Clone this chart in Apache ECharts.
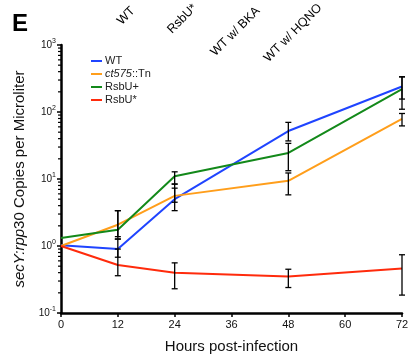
<!DOCTYPE html>
<html>
<head>
<meta charset="utf-8">
<script src="https://cdn.jsdelivr.net/npm/echarts@6/dist/echarts.min.js"></script>
<style>
  html, body { margin: 0; padding: 0; background: #fff; }
  #chart { width: 417px; height: 356px; }
</style>
</head>
<body>
<div id="chart"></div>
<script>
// hours post-infection
const hours = [0, 12, 24, 48, 72];
const seriesNames = ["WT", "ct575::Tn", "RsbU+", "RsbU*"];
const colors = ["#1f44ff", "#ff9e1b", "#13891a", "#ff2b0c"];

// mean copies per microliter
const wt = [1.03, 0.9, 5.0, 52, 240];
const ct575 = [1.0, 2.08, 5.6, 9.4, 79];
const rsbuPlus = [1.32, 1.75, 11, 24.5, 220];
const rsbuStar = [1.0, 0.52, 0.4, 0.35, 0.46];

// error bar ends (null = no bar)
const wtLow = [null, 0.68, 3.37, 37, 156];
const wtHigh = [null, 1.27, 7.3, 70, 335];
const ct575Low = [null, 1.38, 4.5, 5.8, 62];
const ct575High = [null, 3.37, 8.4, 12.3, 95];
const rsbuPlusLow = [null, 1.27, 8.4, 13.3, 110];
const rsbuPlusHigh = [null, 3.37, 12.8, 34, 335];
const rsbuStarLow = [null, 0.36, 0.23, 0.24, 0.185];
const rsbuStarHigh = [null, 0.9, 0.56, 0.45, 0.74];

// tick labels for the top panel strip
const topLabels = ["WT", "RsbU*", "WT w/ BKA", "WT w/ HQNO"];

const means = [wt, ct575, rsbuPlus, rsbuStar];
const lows = [wtLow, ct575Low, rsbuPlusLow, rsbuStarLow];
const highs = [wtHigh, ct575High, rsbuPlusHigh, rsbuStarHigh];

// minor ticks on the log axis (2..9 per decade)
const minorTicks = [];
[0.1, 1, 10, 100].forEach((d) => {
  for (let k = 2; k <= 9; k++) minorTicks.push([0, d * k]);
});

const font = "Liberation Sans, Arial, Helvetica, sans-serif";

const chart = echarts.init(document.getElementById("chart"));

const errorData = [];
hours.forEach((h, i) => {
  lows.forEach((l, s) => {
    if (l[i] != null) errorData.push([h, l[i], highs[s][i]]);
  });
});

const lineSeries = seriesNames.map((name, s) => ({
  name,
  type: "line",
  data: hours.map((h, i) => [h, means[s][i]]),
  showSymbol: false,
  symbol: "none",
  lineStyle: { width: 2, color: colors[s] },
  itemStyle: { color: colors[s] },
  z: 3,
}));

const options = {
  animation: false,
  color: colors,
  grid: { left: 61, right: 15, top: 45, bottom: 43, containLabel: false, outerBoundsMode: "none" },
  legend: {
    orient: "vertical",
    left: 86,
    top: 50,
    itemWidth: 11,
    itemHeight: 2,
    itemGap: 1,
    icon: "rect",
    data: seriesNames,
    textStyle: {
      fontFamily: font,
      fontSize: 11,
      lineHeight: 12,
      color: "#222",
      padding: [0, 0, 0, -2],
      rich: { i: { fontStyle: "italic", fontFamily: font, fontSize: 11, lineHeight: 12, color: "#222" } },
    },
    formatter(name) {
      return name === "ct575::Tn" ? "{i|ct575}::Tn" : name;
    },
  },
  xAxis: {
    type: "value",
    min: 0,
    max: 72,
    interval: 12,
    name: "Hours post-infection",
    nameLocation: "middle",
    nameGap: 26,
    nameTextStyle: { fontFamily: font, fontSize: 15, color: "#111" },
    axisLine: { lineStyle: { color: "#000", width: 2.5 } },
    axisTick: { show: true, length: 4, lineStyle: { color: "#000", width: 1.5 } },
    axisLabel: { fontFamily: font, fontSize: 11, color: "#111", margin: 6 },
    splitLine: { show: false },
  },
  yAxis: {
    type: "log",
    logBase: 10,
    min: 0.1,
    max: 1000,
    name: "{i|secY:rpp}30 Copies per Microliter",
    nameLocation: "middle",
    nameGap: 26,
    nameRotate: 90,
    nameTextStyle: {
      fontFamily: font,
      fontSize: 15,
      color: "#111",
      rich: { i: { fontStyle: "italic", fontFamily: font, fontSize: 15, color: "#111" } },
    },
    axisLine: { show: true, lineStyle: { color: "#000", width: 2.5 } },
    axisTick: { show: true, length: 4, lineStyle: { color: "#000", width: 1.5 } },
    axisLabel: {
      margin: 5,
      formatter(v) {
        const e = Math.round(Math.log10(v));
        return "{b|10}{s|" + e + "}";
      },
      rich: {
        b: { fontFamily: font, fontSize: 10, color: "#111" },
        s: { fontFamily: font, fontSize: 7, color: "#111", verticalAlign: "bottom", padding: [0, 0, 7, 0] },
      },
    },
    splitLine: { show: false },
  },
  graphic: [
    {
      type: "text",
      left: 12,
      top: 12,
      style: { text: "E", font: "bold 24px " + font, fill: "#000" },
    },
    ...topLabels.map((t, i) => ({
      type: "text",
      x: [133, 195, 258, 320][i],
      y: [9, 6, 9, 6][i],
      rotation: Math.PI / 4,
      style: {
        text: t,
        font: "12.5px " + font,
        fill: "#000",
        align: "right",
        verticalAlign: "middle",
      },
    })),
  ],
  series: [
    ...lineSeries,
    {
      type: "custom",
      name: "err",
      data: errorData,
      clip: false,
      z: 4,
      renderItem(params, api) {
        const x = api.value(0);
        const lo = api.coord([x, api.value(1)]);
        const hi = api.coord([x, api.value(2)]);
        const w = 3;
        const st = { stroke: "#000", lineWidth: 1.3 };
        return {
          type: "group",
          children: [
            { type: "line", shape: { x1: lo[0], y1: lo[1], x2: hi[0], y2: hi[1] }, style: st },
            { type: "line", shape: { x1: lo[0] - w, y1: lo[1], x2: lo[0] + w, y2: lo[1] }, style: st },
            { type: "line", shape: { x1: hi[0] - w, y1: hi[1], x2: hi[0] + w, y2: hi[1] }, style: st },
          ],
        };
      },
    },
    {
      type: "custom",
      name: "minor",
      data: minorTicks,
      clip: false,
      z: 5,
      renderItem(params, api) {
        const p = api.coord([0, api.value(1)]);
        return {
          type: "line",
          shape: { x1: p[0] - 3, y1: p[1], x2: p[0], y2: p[1] },
          style: { stroke: "#000", lineWidth: 1.2 },
        };
      },
    },
  ],
};

chart.setOption(options);
window.addEventListener("resize", () => chart.resize());
</script>
</body>
</html>
